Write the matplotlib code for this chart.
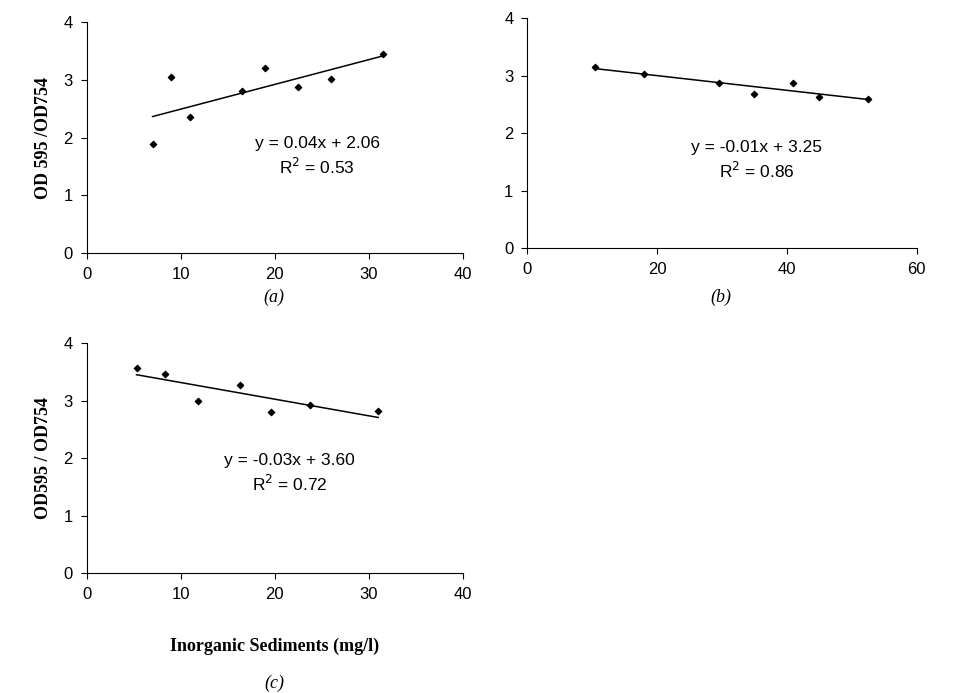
import numpy as np
import matplotlib
matplotlib.use('Agg')
import matplotlib.pyplot as plt

# panel data
xa = [7, 9, 11, 16.5, 19, 22.5, 26, 31.5]
ya = [1.88, 3.05, 2.35, 2.8, 3.2, 2.87, 3.02, 3.45]
xb = [10.5, 18, 29.5, 35, 41, 45, 52.5]
yb = [3.15, 3.02, 2.87, 2.68, 2.87, 2.63, 2.6]
xc = [5.3, 8.3, 11.8, 16.3, 19.6, 23.8, 31]
yc = [3.57, 3.47, 3.0, 3.27, 2.8, 2.93, 2.82]

eq_a = ['y = 0.04x + 2.06', 'R$^2$ = 0.53']
eq_b = ['y = -0.01x + 3.25', 'R$^2$ = 0.86']
eq_c = ['y = -0.03x + 3.60', 'R$^2$ = 0.72']

sans = 'Liberation Sans'
serif = 'Liberation Serif'

fig = plt.figure(figsize=(9.64, 6.93), dpi=100)

def panel(rect, x, y, xmax, xstep, eq, eqx, eqy, ylabel=None):
    ax = fig.add_axes(rect)
    ax.scatter(x, y, s=10, marker='D', color='black', zorder=3)
    k, b = np.polyfit(x, y, 1)
    xs = np.array([min(x), max(x)])
    ax.plot(xs, k * xs + b, color='black', lw=1.1)
    ax.set_xlim(0, xmax)
    ax.set_ylim(0, 4)
    ax.set_xticks(np.arange(0, xmax + 1, xstep))
    ax.set_yticks(range(5))
    for s in ['top', 'right']:
        ax.spines[s].set_visible(False)
    ax.tick_params(direction='out', length=4, labelsize=12, pad=6)
    for lab in ax.get_xticklabels() + ax.get_yticklabels():
        lab.set_family(sans)
    ax.text(eqx, eqy, eq[0], ha='center', fontsize=12.5, family=sans)
    ax.text(eqx, eqy - 0.45, eq[1], ha='center', fontsize=12.5, family=sans)
    if ylabel:
        ax.set_ylabel(ylabel, family=serif, fontweight='bold', fontsize=13, labelpad=8)
    return ax

panel([0.090, 0.635, 0.390, 0.333], xa, ya, 40, 10, eq_a, 24.5, 1.82, 'OD 595 /OD754')
panel([0.547, 0.642, 0.404, 0.332], xb, yb, 60, 20, eq_b, 35.3, 1.67)
axc = panel([0.090, 0.173, 0.390, 0.332], xc, yc, 40, 10, eq_c, 21.6, 1.88, 'OD595 / OD754')
axc.set_xlabel('Inorganic Sediments (mg/l)', family=serif, fontweight='bold', fontsize=13, labelpad=26)

for cx, cy, cap in [(274, 297, '(a)'), (721, 297, '(b)'), (274, 683, '(c)')]:
    fig.text(cx / 964, 1 - cy / 693, cap, ha='center', va='center',
             fontsize=13, family=serif, style='italic')

fig.savefig('out.png', dpi=100)
